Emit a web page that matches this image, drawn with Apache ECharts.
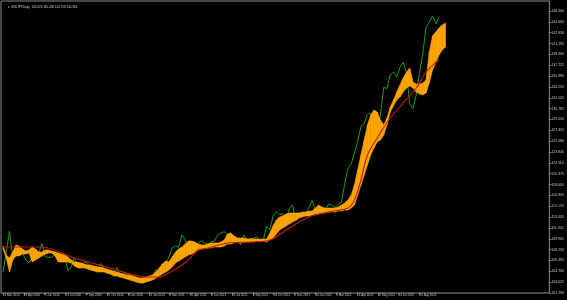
<!DOCTYPE html>
<html><head><meta charset="utf-8">
<script src="https://cdn.jsdelivr.net/npm/echarts@6/dist/echarts.min.js"></script>
<style>html,body{margin:0;padding:0;background:#000;}#c{width:567px;height:300px;}</style>
</head><body><div id="c"></div>
<script>
// x unit = one week of daily bars; week 0 = 11 Mar 2020
const headerText = "\u25BE USDJPY,Daily  145.026 145.458 144.758 145.364";
const lastPrice = 145.364;
const xLabels = ["11 Mar 2020","24 Apr 2020","9 Jun 2020","23 Jul 2020","7 Sep 2020","21 Oct 2020","4 Dec 2020","21 Jan 2021","8 Mar 2021","21 Apr 2021","4 Jun 2021","20 Jul 2021","2 Sep 2021","18 Oct 2021","1 Dec 2021","14 Jan 2022","1 Mar 2022","14 Apr 2022","30 May 2022","13 Jul 2022","26 Aug 2022"];
const weeksPerLabel = 6.4;
const yTicks = [146.400,144.665,142.930,141.195,139.460,137.725,135.990,134.255,132.520,130.785,129.050,127.315,125.580,123.845,122.110,120.375,118.640,116.905,115.170,113.435,111.700,109.965,108.230,106.495,104.760,103.025,101.290];

const priceWk = [
104.6,107.8,111.2,107.2,108.8,107.5,107.7,106.6,106.1,107.0,
107.5,107.7,109.2,107.1,107.0,107.0,107.5,107.2,106.9,107.2,
104.8,105.6,106.9,105.5,106.0,106.2,106.1,104.9,105.4,105.5,
106.0,105.1,104.5,104.3,104.5,105.4,103.8,104.5,104.4,104.2,
103.5,103.6,103.2,102.8,103.8,103.5,104.1,105.0,104.6,106.0,
106.2,107.0,108.5,108.8,108.6,110.6,109.8,108.9,108.1,108.7,
109.2,109.7,109.2,109.1,109.5,109.6,110.6,110.9,111.1,110.6,
110.0,110.3,109.9,109.0,110.6,109.8,110.0,110.0,110.3,109.4,
109.8,111.9,111.4,113.6,114.3,113.8,114.0,112.9,114.8,115.4,
112.8,113.6,114.0,114.1,114.9,116.1,114.6,114.3,114.6,114.6,
115.5,115.4,115.0,115.5,115.8,118.7,121.2,121.9,123.7,125.6,
127.9,128.4,129.9,130.0,128.2,127.2,129.8,134.2,134.0,136.2,
136.6,135.9,137.4,138.2,136.5,131.5,130.8,133.0,136.5,139.5,
143.8,144.6,145.6,144.4,145.36];

const bandUpper = [
108.81,107.37,106.89,107.85,108.97,108.81,108.33,108.01,108.17,108.65,
108.33,107.85,107.85,108.17,108.17,108.01,107.85,107.69,107.53,107.37,
107.05,106.57,106.25,106.25,106.09,105.93,105.77,105.77,105.61,105.45,
105.45,105.29,105.13,104.97,104.81,104.65,104.49,104.33,104.17,104.17,
104.01,103.85,103.69,103.69,103.85,104.01,104.17,104.65,105.29,105.93,
106.41,106.25,107.05,107.85,108.33,108.65,109.13,109.61,109.61,109.45,
109.13,108.97,108.97,109.13,109.29,109.29,109.29,109.45,109.77,110.73,
110.89,110.41,110.09,110.09,110.09,109.93,109.93,109.93,109.93,109.93,
109.93,109.93,110.89,112.01,112.97,113.45,113.61,113.93,114.09,114.09,
114.09,114.09,114.25,114.25,114.41,114.41,114.89,115.37,115.05,114.89,
114.89,114.89,114.89,115.05,115.37,115.69,116.17,116.97,118.57,120.97,
123.37,125.77,128.17,129.77,130.57,130.25,128.97,128.17,129.29,131.05,
132.17,133.45,134.57,135.69,136.65,137.29,135.05,134.73,134.73,134.89,
135.37,139.85,142.41,143.05,143.69,144.17,144.49];
const bandLower = [
108.33,106.89,104.65,106.57,107.21,107.21,107.53,107.53,107.69,106.25,
106.57,106.89,107.21,107.53,107.69,107.69,107.21,106.25,106.25,106.25,
106.25,106.09,105.61,105.29,105.29,105.29,105.13,104.97,104.81,104.65,
104.65,104.65,104.49,104.33,104.01,104.01,103.85,103.69,103.53,103.37,
103.21,103.05,102.89,102.89,103.05,103.21,103.37,103.69,104.01,104.33,
104.65,104.97,105.45,106.09,106.41,106.73,107.05,107.37,107.53,107.85,
108.17,108.33,108.33,108.49,108.49,108.65,108.65,108.65,108.81,109.13,
109.13,109.29,109.45,109.29,109.45,109.45,109.45,109.45,109.61,109.61,
109.61,109.45,109.77,110.09,110.73,111.37,111.69,112.01,112.33,112.65,
112.97,113.29,113.45,113.61,113.61,113.77,113.93,113.93,114.09,114.09,
114.25,114.25,114.25,114.41,114.41,114.57,114.57,114.89,115.37,116.97,
118.57,120.17,121.77,123.37,124.49,125.45,125.77,126.57,128.17,130.25,
131.21,132.17,132.65,133.45,134.09,134.41,134.09,133.45,133.13,132.97,
133.29,134.89,136.97,138.09,139.37,140.17,140.65];

const redWk  = [0,12,22,33,44,48,51,54,57,60,63,69,76,82,88,94,100,106,108,110,112,115,119,127,130,133,134];
const redVal = [108.65,108.65,106.89,105.29,103.85,103.85,104.49,105.45,106.57,108.17,108.49,109.29,109.45,109.77,111.69,113.45,114.25,114.89,116.17,119.37,123.37,126.09,129.29,134.09,136.65,138.17,138.6];

const chart = echarts.init(document.getElementById('c'), null, {renderer:'canvas'});
const labelColor = '#c8c8c8', frameColor = '#8c8c8c', font = 'Liberation Sans';
chart.setOption({
  backgroundColor:'#000',
  animation:false,
  title:{text:headerText,left:3,top:1,textStyle:{color:'#d0d0d0',fontSize:3,fontWeight:'normal',fontFamily:font}},
  grid:{left:0,right:14,top:1,bottom:7,show:true,borderColor:frameColor,borderWidth:1,backgroundColor:'#000'},
  xAxis:{type:'value',min:-0.61,max:167.9,
    axisLine:{show:false,onZero:false},splitLine:{show:false},
    axisTick:{show:true,length:2,lineStyle:{color:frameColor,width:1},customValues:xLabels.map((_,k)=>k*weeksPerLabel)},
    axisLabel:{show:true,color:labelColor,fontSize:3,fontFamily:font,margin:1,align:'left',hideOverlap:false,
      customValues:xLabels.map((_,k)=>k*weeksPerLabel),
      formatter:v=>xLabels[Math.round(v/weeksPerLabel)]||''}},
  yAxis:{type:'value',position:'right',min:101.29,max:148.01,
    axisLine:{show:false,onZero:false},splitLine:{show:false},
    axisTick:{show:true,length:2,lineStyle:{color:frameColor,width:1},customValues:yTicks},
    axisLabel:{show:true,color:labelColor,fontSize:3.5,fontFamily:font,margin:2,hideOverlap:false,
      customValues:yTicks,formatter:v=>v.toFixed(3)}},
  series:[
    {type:'line',name:'price',data:priceWk.map((v,i)=>[i,v]),showSymbol:false,
     lineStyle:{color:'#12a012',width:1},z:2,
     markLine:{symbol:'none',silent:true,lineStyle:{opacity:0},
       data:[{yAxis:lastPrice}],
       label:{position:'end',distance:1,formatter:()=>lastPrice.toFixed(3),color:'#000',backgroundColor:'#ffffff',fontSize:3.5,padding:[0,1],fontFamily:font}}},
    {type:'custom',name:'band',z:3,clip:true,
     data:bandUpper.map((u,i)=>[i,u,bandLower[i]]),
     encode:{x:0,y:[1,2]},
     renderItem:(params,api)=>{
       const i = params.dataIndex;
       if(i>=bandUpper.length-1) return null;
       const pts=[api.coord([i,bandUpper[i]]),api.coord([i+1,bandUpper[i+1]]),api.coord([i+1,bandLower[i+1]]),api.coord([i,bandLower[i]])];
       return {type:'polygon',shape:{points:pts},style:{fill:'#FFA500',stroke:'#FFA500',lineWidth:0.6}};
     }},
    {type:'line',name:'ma',data:redWk.map((w,k)=>[w,redVal[k]]),showSymbol:false,smooth:0.3,
     lineStyle:{color:'#c81818',width:1.1},z:4}
  ]
});
</script></body></html>
